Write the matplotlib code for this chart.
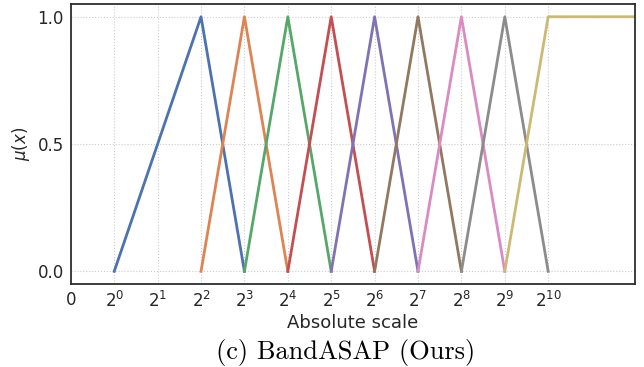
import numpy as np
import matplotlib.pyplot as plt

# membership functions on a log2 axis (positions: 0 -> "0", k+1 -> 2^k)
tick_pos = list(range(12))
tick_labels = ["0"] + [r"$2^{%d}$" % k for k in range(11)]

# each band: (x points, mu points) in axis positions
bands_x = [
    [1, 3, 4],
    [3, 4, 5],
    [4, 5, 6],
    [5, 6, 7],
    [6, 7, 8],
    [7, 8, 9],
    [8, 9, 10],
    [9, 10, 11],
    [10, 11, 14],
]
bands_y = [
    [0, 1, 0],
    [0, 1, 0],
    [0, 1, 0],
    [0, 1, 0],
    [0, 1, 0],
    [0, 1, 0],
    [0, 1, 0],
    [0, 1, 0],
    [0, 1, 1],
]
colors = ["#4C72B0", "#DD8452", "#55A868", "#C44E52", "#8172B3",
          "#937860", "#DA8BC3", "#8C8C8C", "#CCB974"]

fig = plt.figure(figsize=(6.44, 3.67), dpi=100)
ax = fig.add_axes([0.110, 0.226, 0.876, 0.763])

for xs, ys, c in zip(bands_x, bands_y, colors):
    ax.plot(xs, ys, color=c, lw=2)

ax.set_xlim(0, 13)
ax.set_ylim(-0.05, 1.05)
ax.set_xticks(tick_pos)
ax.set_xticklabels(tick_labels)
ax.set_yticks([0, 0.5, 1.0])
ax.set_yticklabels(["0.0", "0.5", "1.0"])
ax.tick_params(length=0, labelsize=12, colors="#262626", pad=5)
ax.grid(True, color="#cccccc", ls=":", lw=0.8)
for s in ax.spines.values():
    s.set_color("#262626")
    s.set_linewidth(1.25)

ax.set_xlabel("Absolute scale", fontsize=13, color="#262626", labelpad=2)
ax.set_ylabel(r"$\mu(x)$", fontsize=12, color="#262626", labelpad=4)

fig.text(0.537, 0.04, "(c) BandASAP (Ours)", family="cmr10", fontsize=19,
         ha="center", va="center")

fig.savefig("out.png", dpi=100)
